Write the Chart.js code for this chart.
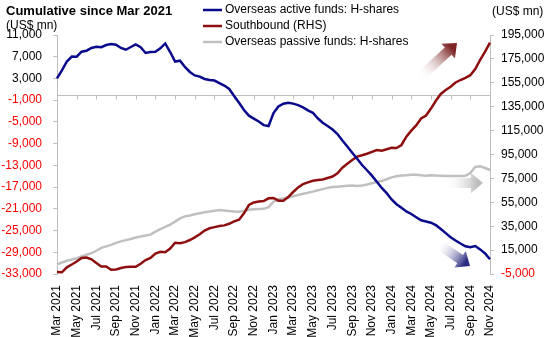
<!DOCTYPE html>
<html>
<head>
<meta charset="utf-8">
<script src="https://cdn.jsdelivr.net/npm/chart.js@4.4.1/dist/chart.umd.min.js"></script>
<style>
  html, body { margin: 0; padding: 0; background: #fff; }
  #wrap { width: 550px; height: 337px; position: relative; }
</style>
</head>
<body>
<div id="wrap"><canvas id="flowChart"></canvas></div>
<script>
// semi-monthly observation dates
const dates = [
  "2021-03-01","2021-03-16","2021-04-01","2021-04-16","2021-05-01","2021-05-16","2021-06-01","2021-06-16",
  "2021-07-01","2021-07-16","2021-08-01","2021-08-16","2021-09-01","2021-09-16","2021-10-01","2021-10-16",
  "2021-11-01","2021-11-16","2021-12-01","2021-12-16",
  "2022-01-01","2022-01-16","2022-02-01","2022-02-16","2022-03-01","2022-03-16","2022-04-01","2022-04-16",
  "2022-05-01","2022-05-16","2022-06-01","2022-06-16","2022-07-01","2022-07-16","2022-08-01","2022-08-16",
  "2022-09-01","2022-09-16","2022-10-01","2022-10-16","2022-11-01","2022-11-16","2022-12-01","2022-12-16",
  "2023-01-01","2023-01-16","2023-02-01","2023-02-16","2023-03-01","2023-03-16","2023-04-01","2023-04-16",
  "2023-05-01","2023-05-16","2023-06-01","2023-06-16","2023-07-01","2023-07-16","2023-08-01","2023-08-16",
  "2023-09-01","2023-09-16","2023-10-01","2023-10-16","2023-11-01","2023-11-16","2023-12-01","2023-12-16",
  "2024-01-01","2024-01-16","2024-02-01","2024-02-16","2024-03-01","2024-03-16","2024-04-01","2024-04-16",
  "2024-05-01","2024-05-16","2024-06-01","2024-06-16","2024-07-01","2024-07-16","2024-08-01","2024-08-16",
  "2024-09-01","2024-09-16","2024-10-01","2024-10-16","2024-11-01"
];

const tickLabels = [
  "Mar 2021","May 2021","Jul 2021","Sep 2021","Nov 2021","Jan 2022","Mar 2022","May 2022",
  "Jul 2022","Sep 2022","Nov 2022","Jan 2023","Mar 2023","May 2023","Jul 2023","Sep 2023",
  "Nov 2023","Jan 2024","Mar 2024","May 2024","Jul 2024","Sep 2024","Nov 2024"
];

// US$ mn, left axis
const activeFunds = [
  3000, 4470, 6120, 7040, 7000, 7930, 8110, 8610, 8850, 8750, 9160, 9340, 9200, 8610, 8290, 8790,
  9250, 8740, 7690, 7870, 7930, 8550, 9440, 7870, 6120, 6270, 5110, 4190, 3560, 3340, 2900, 2720,
  2620, 2160, 1700, 1060, -230, -1460, -2810, -3850, -4390, -4920, -5590, -5750, -3360, -2160,
  -1650, -1460, -1630, -1920, -2330, -2880, -3320, -4330, -5160, -5750, -6400, -7240, -8420, -9540,
  -10670, -11790, -12930, -13900, -14900, -16020, -17160, -18120, -19280, -20150, -20790, -21490,
  -21950, -22540, -23110, -23330, -23550, -24010, -24710, -25480, -26240, -26840, -27380, -27890,
  -28060, -27860, -28470, -29220, -30290
];

// US$ mn, right axis
const southbound = [
  -3250, -3580, 600, 2950, 5460, 8390, 8810, 7300, 4200, 1280, 1280, -1400, -1150, 20, 860, 1110,
  1110, 3620, 6710, 8390, 12160, 13660, 13160, 16340, 21190, 20690, 21700, 23450, 25630, 28220,
  31400, 33240, 34250, 35080, 35670, 37010, 39020, 40440, 45800, 52740, 54830, 55670, 56090, 58350,
  58600, 56340, 56340, 59430, 63620, 67470, 70150, 71650, 72990, 73740, 74160, 75330, 76590, 79270,
  83950, 87300, 90400, 93240, 94330, 95670, 97260, 98770, 98100, 99350, 100610, 100440, 102950,
  109900, 115000, 119350, 125130, 127640, 133410, 139940, 145710, 148980, 151650, 155250, 157340,
  159180, 161360, 166550, 174250, 181020, 188560
];

// US$ mn, left axis
const passiveFunds = [
  -31240, -30880, -30560, -30340, -30100, -29770, -29460, -29160, -28720, -28190, -27910, -27650,
  -27270, -26990, -26770, -26550, -26290, -26090, -25910, -25760, -25190, -24750, -24340, -23900,
  -23350, -22760, -22390, -22240, -22000, -21800, -21620, -21490, -21360, -21230, -21300, -21420,
  -21510, -21530, -21420, -21190, -21070, -21030, -21010, -20700, -19700, -19240, -19100, -18910,
  -18690, -18450, -18230, -18050, -17830, -17570, -17370, -17140, -17000, -16920, -16850, -16760,
  -16700, -16780, -16690, -16520, -16300, -16060, -15890, -15560, -15210, -14990, -14880, -14830,
  -14750, -14750, -14840, -14900, -14840, -14860, -14900, -14950, -14950, -14950, -14950, -14920,
  -14400, -13280, -13170, -13480, -13850
];

const FONT = "'Liberation Sans', Arial, sans-serif";
const AXIS_GREY = "#BFBFBF";
const BLUE = "#0A0A8C";
const RED = "#8E0F0F";
const GREY = "#C0C0C0";

function fmt(v) {
  return v.toLocaleString("en-US");
}

function drawArrow(ctx, x0, y0, x1, y1, color) {
  const ang = Math.atan2(y1 - y0, x1 - x0);
  const len = Math.hypot(x1 - x0, y1 - y0);
  const hl = 12, sw = 5, hw = 10;
  const g = ctx.createLinearGradient(x0, y0, x1, y1);
  g.addColorStop(0, "rgba(255,255,255,0)");
  g.addColorStop(0.85, color);
  g.addColorStop(1, color);
  ctx.save();
  ctx.translate(x0, y0);
  ctx.rotate(ang);
  ctx.beginPath();
  ctx.moveTo(0, -sw);
  ctx.lineTo(len - hl, -sw);
  ctx.lineTo(len - hl, -hw);
  ctx.lineTo(len, 0);
  ctx.lineTo(len - hl, hw);
  ctx.lineTo(len - hl, sw);
  ctx.lineTo(0, sw);
  ctx.closePath();
  ctx.restore();
  ctx.fillStyle = g;
  ctx.fill();
}

const extras = {
  id: "extras",
  beforeDatasetsDraw(chart) {
    const ctx = chart.ctx;
    const x = chart.scales.x;
    const y = chart.scales.y;
    const y0 = Math.round(y.getPixelForValue(0)) + 0.5;
    ctx.save();
    ctx.strokeStyle = AXIS_GREY;
    ctx.lineWidth = 1;
    ctx.beginPath();
    ctx.moveTo(chart.chartArea.left, y0);
    ctx.lineTo(chart.chartArea.right, y0);
    for (let i = 0; i < dates.length; i += 4) {
      const px = Math.round(x.getPixelForValue(i)) + 0.5;
      ctx.moveTo(px, y0);
      ctx.lineTo(px, y0 + 4);
    }
    ctx.stroke();
    ctx.restore();
  },
  afterDraw(chart) {
    const ctx = chart.ctx;
    const a = chart.chartArea;
    ctx.save();
    ctx.fillStyle = "#000";
    ctx.textBaseline = "middle";
    ctx.textAlign = "left";
    ctx.font = "bold 13px " + FONT;
    ctx.fillText("Cumulative since Mar 2021", 6, 11);
    ctx.font = "12px " + FONT;
    ctx.fillText("(US$ mn)", 6, 26);
    ctx.fillText("(US$ mn)", 492, 12);

    const items = [
      ["Overseas active funds: H-shares", BLUE],
      ["Southbound (RHS)", RED],
      ["Overseas passive funds: H-shares", GREY]
    ];
    items.forEach((it, k) => {
      const ly = 10 + k * 16;
      ctx.strokeStyle = it[1];
      ctx.lineWidth = 2.5;
      ctx.beginPath();
      ctx.moveTo(203, ly);
      ctx.lineTo(222, ly);
      ctx.stroke();
      ctx.fillStyle = "#000";
      ctx.fillText(it[0], 225, ly);
    });

    drawArrow(ctx, a.right - 70, a.top + 42, a.right - 33, a.top + 8, "#7E2626");
    drawArrow(ctx, a.right - 46, a.top + 148, a.right - 7, a.top + 148, "#BDBDBD");
    drawArrow(ctx, a.right - 52, a.top + 209, a.right - 20, a.top + 231, "#2B2B80");
    ctx.restore();
  }
};

new Chart(document.getElementById("flowChart"), {
  type: "line",
  data: {
    labels: dates,
    datasets: [
      { label: "Overseas active funds: H-shares", data: activeFunds, yAxisID: "y",
        borderColor: BLUE, borderWidth: 2.5, fill: false, order: 1 },
      { label: "Southbound (RHS)", data: southbound, yAxisID: "y2",
        borderColor: RED, borderWidth: 2.5, fill: false, order: 2 },
      { label: "Overseas passive funds: H-shares", data: passiveFunds, yAxisID: "y",
        borderColor: GREY, borderWidth: 2.5, fill: false, order: 3 }
    ]
  },
  options: {
    responsive: true,
    maintainAspectRatio: false,
    animation: false,
    layout: { padding: { top: 35, bottom: 0, left: 0, right: 0 } },
    elements: { point: { radius: 0 }, line: { tension: 0 } },
    plugins: { legend: { display: false }, tooltip: { enabled: false } },
    scales: {
      x: {
        type: "category",
        offset: false,
        grid: { display: false },
        border: { display: false },
        ticks: {
          autoSkip: false,
          minRotation: 90,
          maxRotation: 90,
          padding: 3,
          color: "#000",
          font: { family: FONT, size: 12 },
          callback: (val, i) => (i % 4 === 0 ? tickLabels[i / 4] : "")
        },
        afterFit: s => { s.height = 63; }
      },
      y: {
        position: "left",
        min: -33000,
        max: 11000,
        grid: { drawOnChartArea: false, color: AXIS_GREY, tickLength: 4 },
        border: { color: AXIS_GREY },
        ticks: {
          stepSize: 4000,
          padding: 11,
          font: { family: FONT, size: 12 },
          color: c => (c.tick && c.tick.value < 0 ? "#FF0000" : "#000"),
          callback: v => fmt(v)
        },
        afterFit: s => { s.width = 57; }
      },
      y2: {
        position: "right",
        min: -5000,
        max: 195000,
        grid: { drawOnChartArea: false, color: AXIS_GREY, tickLength: 4 },
        border: { color: AXIS_GREY },
        ticks: {
          stepSize: 20000,
          padding: 7,
          font: { family: FONT, size: 12 },
          color: c => (c.tick && c.tick.value < 0 ? "#FF0000" : "#000"),
          callback: v => fmt(v)
        },
        afterFit: s => { s.width = 60; }
      }
    }
  },
  plugins: [extras]
});
</script>
</body>
</html>
